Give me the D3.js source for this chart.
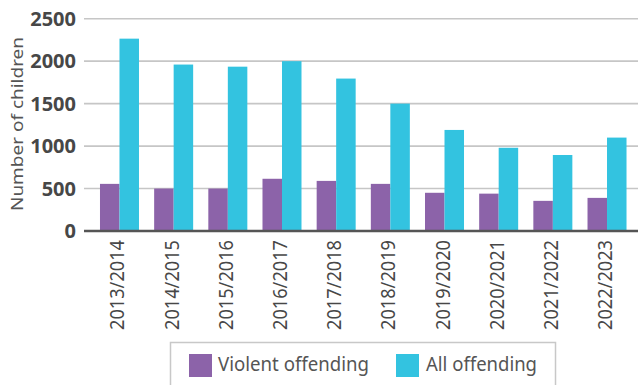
<!DOCTYPE html>
<html>
<head>
<meta charset="utf-8">
<script src="https://cdn.jsdelivr.net/npm/d3@7/dist/d3.min.js"></script>
<style>
  html, body { margin: 0; padding: 0; background: #fff; }
  svg { display: block; }
</style>
</head>
<body>
<svg id="chart" width="638" height="385"></svg>
<script>
const categories = ["2013/2014","2014/2015","2015/2016","2016/2017","2017/2018","2018/2019","2019/2020","2020/2021","2021/2022","2022/2023"];
const violentOffending = [555, 500, 500, 615, 590, 555, 450, 440, 355, 390];
const allOffending = [2265, 1960, 1935, 2000, 1795, 1500, 1190, 980, 895, 1100];
const seriesNames = ["Violent offending", "All offending"];
const seriesColors = ["#8C63A9", "#33C3E0"];
const yTicks = [0, 500, 1000, 1500, 2000, 2500];

const svg = d3.select("#chart");
const font = "'Noto Sans', 'DejaVu Sans', sans-serif";

const y = d3.scaleLinear().domain([0, 2500]).range([231, 18.7]);
const x = d3.scaleBand().domain(categories).range([92.4, 634.1]).paddingInner(0.28).paddingOuter(0.14);
const xs = d3.scaleBand().domain(seriesNames).range([0, x.bandwidth()]);

// gridlines
svg.append("g").selectAll("line").data(yTicks.filter(d => d > 0)).join("line")
  .attr("x1", 84).attr("x2", 638)
  .attr("y1", d => y(d)).attr("y2", d => y(d))
  .attr("stroke", "#c6c6c6").attr("stroke-width", 1.6);

// y tick labels
svg.append("g").selectAll("text").data(yTicks).join("text")
  .attr("x", 76).attr("y", d => y(d)).attr("dy", "0.36em")
  .attr("text-anchor", "end")
  .attr("font-family", font).attr("font-weight", 700).attr("font-size", 20)
  .attr("fill", "#474747")
  .text(d => d);

// bars
const data = categories.map((c, i) => ({ c, vals: [violentOffending[i], allOffending[i]] }));
const groups = svg.append("g").selectAll("g").data(data).join("g")
  .attr("transform", d => `translate(${x(d.c)},0)`);
groups.selectAll("rect").data(d => d.vals.map((v, j) => ({ v, s: seriesNames[j], j }))).join("rect")
  .attr("x", d => xs(d.s)).attr("width", xs.bandwidth())
  .attr("y", d => y(d.v)).attr("height", d => y(0) - y(d.v))
  .attr("fill", d => seriesColors[d.j]);

// baseline
svg.append("line").attr("x1", 84).attr("x2", 638).attr("y1", y(0)).attr("y2", y(0))
  .attr("stroke", "#555").attr("stroke-width", 2.6);

// x labels
svg.append("g").selectAll("text").data(categories).join("text")
  .attr("transform", d => `translate(${x(d) + x.bandwidth() / 2 + 5},240) rotate(-90)`)
  .attr("text-anchor", "end")
  .attr("font-family", font).attr("font-size", 20)
  .attr("fill", "#474747")
  .attr("textLength", 90).attr("lengthAdjust", "spacingAndGlyphs")
  .text(d => d);

// y axis title
svg.append("text")
  .attr("transform", "translate(23,124) rotate(-90)")
  .attr("text-anchor", "middle")
  .attr("font-family", font).attr("font-size", 17)
  .attr("fill", "#555")
  .attr("textLength", 174).attr("lengthAdjust", "spacingAndGlyphs")
  .text("Number of children");

// legend
const lg = svg.append("g");
lg.append("rect").attr("x", 170.5).attr("y", 342.5).attr("width", 385).attr("height", 50)
  .attr("fill", "none").attr("stroke", "#c8c8c8").attr("stroke-width", 1.5);
const legendItems = [
  { name: seriesNames[0], color: seriesColors[0], sx: 189, tx: 218, len: 151 },
  { name: seriesNames[1], color: seriesColors[1], sx: 396, tx: 426, len: 111 }
];
legendItems.forEach(it => {
  lg.append("rect").attr("x", it.sx).attr("y", 354).attr("width", 23).attr("height", 23).attr("fill", it.color);
  lg.append("text").attr("x", it.tx).attr("y", 371)
    .attr("font-family", font).attr("font-size", 20).attr("fill", "#555")
    .attr("textLength", it.len).attr("lengthAdjust", "spacingAndGlyphs")
    .text(it.name);
});
</script>
</body>
</html>
